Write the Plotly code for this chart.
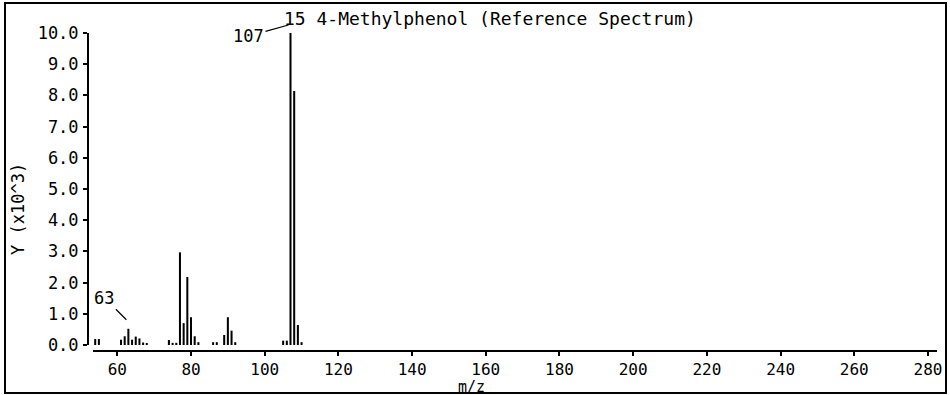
import plotly.graph_objects as go

# Mass spectrum of 4-methylphenol: m/z values and abundances (x10^3)
mz = [54, 55, 61, 62, 63, 64, 65, 66, 67, 68,
      74, 75, 76, 77, 78, 79, 80, 81, 82,
      86, 87, 89, 90, 91, 92,
      105, 106, 107, 108, 109, 110]
abundance = [0.19, 0.19, 0.17, 0.28, 0.52, 0.17, 0.27, 0.21, 0.08, 0.06,
             0.16, 0.07, 0.07, 2.97, 0.70, 2.18, 0.89, 0.28, 0.09,
             0.09, 0.09, 0.32, 0.89, 0.46, 0.09,
             0.14, 0.14, 10.0, 8.14, 0.64, 0.09]

x_ticks = [60, 80, 100, 120, 140, 160, 180, 200, 220, 240, 260, 280]
y_ticks = [0, 1, 2, 3, 4, 5, 6, 7, 8, 9, 10]
y_tick_text = [f"{v:.1f}" for v in y_ticks]

title_text = "15 4-Methylphenol (Reference Spectrum)"
labelled_peaks = [63, 107]

W, H = 950, 395
FONT = "DejaVu Sans Mono"


def px_x(p):
    return p / W


def px_y(p):
    return 1 - p / H


fig = go.Figure()
fig.add_trace(go.Bar(
    x=mz, y=abundance, width=0.55,
    marker=dict(color="black", line=dict(width=0)),
    hoverinfo="x+y",
))

fig.update_layout(
    width=W, height=H,
    margin=dict(l=0, r=0, t=0, b=0, autoexpand=False),
    paper_bgcolor="white", plot_bgcolor="white",
    showlegend=False,
    font=dict(family=FONT, size=17, color="black"),
    xaxis=dict(
        domain=[px_x(93), px_x(937)],
        range=[53.4, 282.45],
        anchor="free", position=px_y(351),
        automargin=False,
        showline=True, linecolor="black", linewidth=2,
        showgrid=False, zeroline=False,
        tickmode="array", tickvals=x_ticks,
        ticks="outside", ticklen=4, tickwidth=2, tickcolor="black",
        ticklabelstandoff=0,
        tickfont=dict(family=FONT, size=16),
    ),
    yaxis=dict(
        domain=[px_y(345), px_y(33)],
        range=[0, 10],
        anchor="free", position=px_x(88),
        automargin=False,
        showline=True, linecolor="black", linewidth=2,
        showgrid=False, zeroline=False,
        tickmode="array", tickvals=y_ticks, ticktext=y_tick_text,
        ticks="outside", ticklen=4, tickwidth=2, tickcolor="black",
        ticklabelstandoff=1,
        tickfont=dict(family=FONT, size=17),
    ),
)

# Peak labels with leader lines
peak_lookup = dict(zip(mz, abundance))
label_offsets = {63: (-22, -22, 9), 107: (-40, 11, 8)}
for p in labelled_peaks:
    ax, ay, lift = label_offsets[p]
    fig.add_annotation(
        x=p, y=peak_lookup[p], xref="x", yref="y",
        text=str(p), showarrow=True, arrowhead=0, arrowwidth=1.2,
        arrowcolor="black", ax=ax, ay=ay, yshift=lift, xshift=-2,
        font=dict(family=FONT, size=17, color="black"),
        standoff=0, startstandoff=0,
    )

# Spectrum title
fig.add_annotation(
    x=px_x(282), y=px_y(18), xref="paper", yref="paper",
    text=title_text, showarrow=False, xanchor="left", yanchor="middle",
    font=dict(family=FONT, size=18, color="black"),
)

# Axis titles
fig.add_annotation(
    x=px_x(471), y=px_y(387), xref="paper", yref="paper",
    text="m/z", showarrow=False, xanchor="center", yanchor="middle",
    font=dict(family=FONT, size=15, color="black"), borderpad=0,
)
fig.add_annotation(
    x=px_x(18), y=px_y(209), xref="paper", yref="paper",
    text="Y (x10^3)", showarrow=False, textangle=-90,
    xanchor="center", yanchor="middle",
    font=dict(family=FONT, size=17, color="black"),
)

# Outer frame
fig.add_shape(
    type="rect", xref="paper", yref="paper",
    x0=px_x(5), x1=px_x(946), y0=px_y(393), y1=px_y(3),
    line=dict(color="black", width=2), fillcolor="rgba(0,0,0,0)",
)

fig.write_html("out.html")
